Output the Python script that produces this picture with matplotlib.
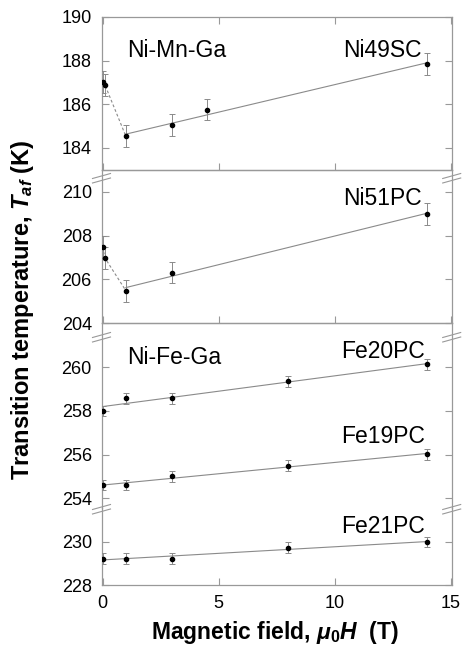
import numpy as np
import matplotlib
matplotlib.use("Agg")
import matplotlib.pyplot as plt
from matplotlib.lines import Line2D

plt.rcParams['font.family'] = ['Liberation Sans', 'DejaVu Sans']
plt.rcParams['mathtext.fontset'] = 'custom'
plt.rcParams['mathtext.rm'] = 'Liberation Sans:bold'
plt.rcParams['mathtext.bf'] = 'Liberation Sans:bold'
plt.rcParams['mathtext.it'] = 'Liberation Sans:bold:italic'

# ---- data ----
ni49_x = [0.0, 0.1, 1.0, 3.0, 4.5, 14.0]
ni49_y = [187.02, 186.88, 184.53, 185.03, 185.75, 187.85]
ni49_err = [0.5, 0.5, 0.5, 0.5, 0.5, 0.5]

ni51_x = [0.0, 0.1, 1.0, 3.0, 14.0]
ni51_y = [207.49, 206.97, 205.48, 206.31, 209.0]
ni51_err = [0.5, 0.5, 0.5, 0.5, 0.5]

fe_x = [0.0, 1.0, 3.0, 8.0, 14.0]
fe20_y = [258.0, 258.58, 258.58, 259.37, 260.14]
fe19_y = [254.61, 254.61, 255.0, 255.5, 256.01]
fe21_y = [229.22, 229.22, 229.22, 229.72, 229.99]
fe_err = [0.25, 0.25, 0.25, 0.25, 0.25]

xticks = [0, 5, 10, 15]
yticks1 = [184, 186, 188, 190]
yticks2 = [204, 206, 208, 210]
yticks3 = [254, 256, 258, 260]
yticks4 = [228, 230]

W, H = 462, 653
fig = plt.figure(figsize=(W / 100, H / 100), dpi=100)

L, R = 101.5, 451.7
def rect(top, bottom):
    return [L / W, 1 - bottom / H, (R - L) / W, (bottom - top) / H]

ax1 = fig.add_axes(rect(16.9, 170))
ax2 = fig.add_axes(rect(170, 323))
ax3 = fig.add_axes(rect(323, 507.5))
ax4 = fig.add_axes(rect(507.5, 585))

ax1.set_ylim(182.98, 190.0)
ax2.set_ylim(204.0, 211.0)
ax3.set_ylim(253.58, 262.03)
ax4.set_ylim(228.0, 231.58)

gray = '#8a8a8a'
spc = '#999999'
for ax in (ax1, ax2, ax3, ax4):
    ax.set_xlim(-0.05, 15.05)
    ax.set_xticks(xticks)
    for s in ax.spines.values():
        s.set_color(spc)
        s.set_linewidth(0.9)
    ax.tick_params(direction='in', length=5, width=0.8, color=spc,
                   labelsize=13, pad=7, right=True, left=True)
    ax.patch.set_alpha(0)

ax1.set_yticks(yticks1)
ax2.set_yticks(yticks2)
ax3.set_yticks(yticks3)
ax4.set_yticks(yticks4)

ax1.tick_params(axis='x', top=True, bottom=True, labelbottom=False)
ax2.tick_params(axis='x', top=False, bottom=True, labelbottom=False)
ax3.tick_params(axis='x', top=False, bottom=False, labelbottom=False)
ax4.tick_params(axis='x', top=False, bottom=True, labelbottom=True)
ax3.spines['bottom'].set_visible(False)
ax4.spines['top'].set_visible(False)

ekw = dict(fmt='o', color='black', markersize=3.0, ecolor=gray,
           elinewidth=0.7, capsize=2.0, capthick=0.7, zorder=3)

def fitline(ax, x, y):
    x = np.asarray(x); y = np.asarray(y)
    p = np.polyfit(x, y, 1)
    xx = np.array([x.min(), x.max()])
    ax.plot(xx, np.polyval(p, xx), color=gray, lw=0.8, zorder=2)

# Ni49SC
ax1.errorbar(ni49_x, ni49_y, yerr=ni49_err, **ekw)
ax1.plot(ni49_x[:3], ni49_y[:3], color=gray, lw=0.8, ls=(0, (2.5, 2)), zorder=2)
fitline(ax1, ni49_x[2:], ni49_y[2:])

# Ni51PC
ax2.errorbar(ni51_x, ni51_y, yerr=ni51_err, **ekw)
ax2.plot(ni51_x[:3], ni51_y[:3], color=gray, lw=0.8, ls=(0, (2.5, 2)), zorder=2)
fitline(ax2, ni51_x[2:], ni51_y[2:])

# Fe
ax3.errorbar(fe_x, fe20_y, yerr=fe_err, **ekw)
fitline(ax3, fe_x, fe20_y)
ax3.errorbar(fe_x, fe19_y, yerr=fe_err, **ekw)
fitline(ax3, fe_x, fe19_y)
ax4.errorbar(fe_x, fe21_y, yerr=fe_err, **ekw)
fitline(ax4, fe_x, fe21_y)

fs = 16.5
ax1.text(1.06, 188.14, 'Ni-Mn-Ga', fontsize=fs, ha='left', va='baseline')
ax1.text(13.77, 188.14, 'Ni49SC', fontsize=fs, ha='right', va='baseline')
ax2.text(13.77, 209.39, 'Ni51PC', fontsize=fs, ha='right', va='baseline')
ax3.text(1.06, 260.15, 'Ni-Fe-Ga', fontsize=fs, ha='left', va='baseline')
ax3.text(13.9, 260.43, 'Fe20PC', fontsize=fs, ha='right', va='baseline')
ax3.text(13.9, 256.54, 'Fe19PC', fontsize=fs, ha='right', va='baseline')
ax4.text(13.9, 230.39, 'Fe21PC', fontsize=fs, ha='right', va='baseline')

# break marks (pixel positions converted to figure fraction)
def slash(xc, yc):
    for dy in (0, 4.5):
        x0, y0 = xc - 9, yc + 2.5 + dy
        x1, y1 = xc + 9, yc - 2.5 + dy
        fig.add_artist(Line2D([x0 / W, x1 / W], [1 - y0 / H, 1 - y1 / H],
                              transform=fig.transFigure, color=spc, lw=0.8))
for yc in (176, 335, 507):
    slash(L, yc)
    slash(R, yc)

fig.text(275 / W, 1 - 632 / H, r'Magnetic field, $\mu_0H$  (T)',
         fontsize=16.5, fontweight='bold', ha='center', va='center')
fig.text(23 / W, 1 - 310 / H, r'Transition temperature, $T_{af}$ (K)',
         fontsize=17, fontweight='bold', ha='center', va='center', rotation=90)

fig.savefig('out.png', dpi=100)
